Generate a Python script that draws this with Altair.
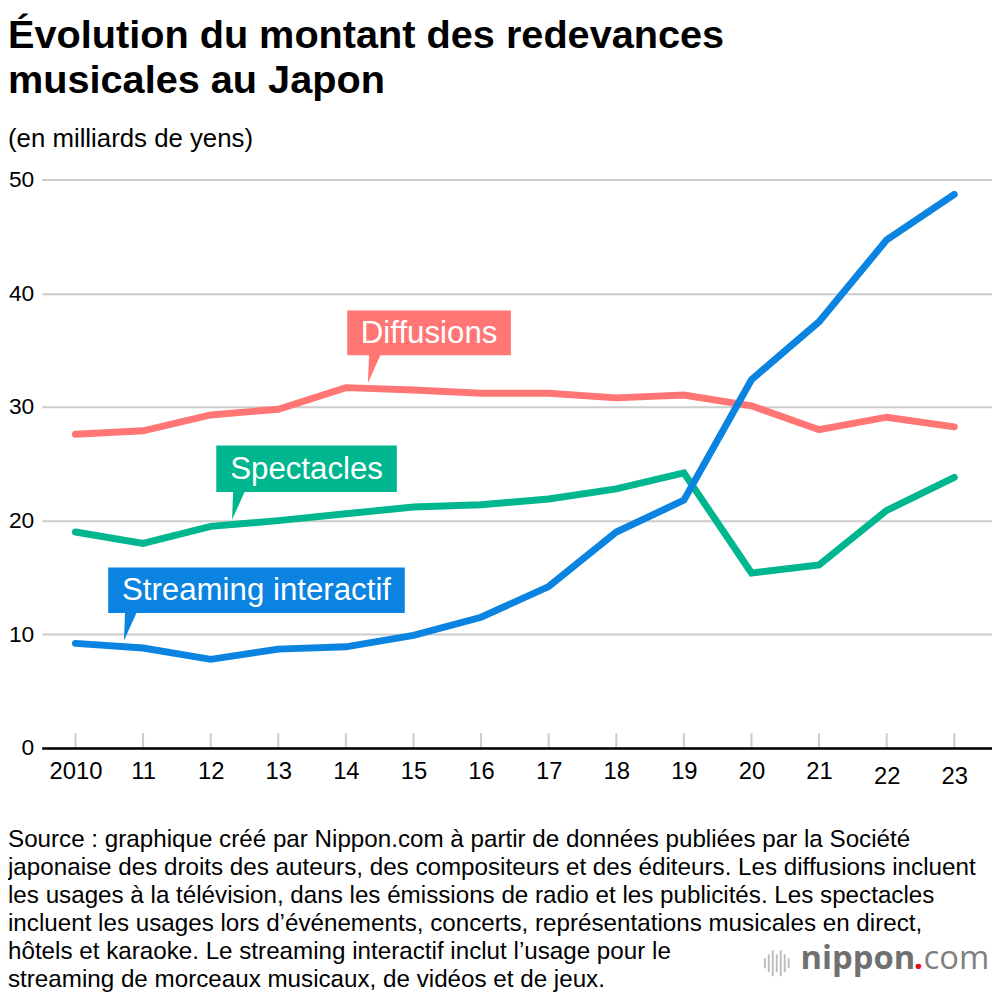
import altair as alt
import pandas as pd
import json

# ---------------- data ----------------
years = list(range(2010, 2024))
year_labels = ["2010", "11", "12", "13", "14", "15", "16", "17", "18", "19", "20", "21", "22", "23"]
series_names = ["Diffusions", "Spectacles", "Streaming interactif"]
series_colors = ["#FF7674", "#00B68F", "#0A84E0"]
diffusions = [27.6, 27.9, 29.3, 29.8, 31.7, 31.5, 31.2, 31.2, 30.8, 31.05, 30.1, 28.0, 29.1, 28.25]
spectacles = [19.0, 18.0, 19.5, 20.0, 20.6, 21.2, 21.4, 21.9, 22.8, 24.2, 15.4, 16.1, 20.9, 23.8]
streaming = [9.2, 8.8, 7.8, 8.7, 8.9, 9.9, 11.5, 14.2, 19.0, 21.8, 32.4, 37.5, 44.7, 48.7]
y_ticks = [0, 10, 20, 30, 40, 50]

title_lines = ["Évolution du montant des redevances", "musicales au Japon"]
subtitle = "(en milliards de yens)"
footer_lines = [
    "Source : graphique créé par Nippon.com à partir de données publiées par la Société",
    "japonaise des droits des auteurs, des compositeurs et des éditeurs. Les diffusions incluent",
    "les usages à la télévision, dans les émissions de radio et les publicités. Les spectacles",
    "incluent les usages lors d’événements, concerts, représentations musicales en direct,",
    "hôtels et karaoke. Le streaming interactif inclut l’usage pour le",
    "streaming de morceaux musicaux, de vidéos et de jeux.",
]

rows = []
for name, vals in zip(series_names, [diffusions, spectacles, streaming]):
    for yr, v in zip(years, vals):
        rows.append({"year": yr, "series": name, "value": v})
df = pd.DataFrame(rows)
ticks_df = pd.DataFrame({"year": years})

W, H = 958, 573
FONT = "Liberation Sans"

xscale = alt.Scale(domain=[2009.501, 2023.558], nice=False, zero=False)
yscale = alt.Scale(domain=[0, 50], nice=False)

label_expr = json.dumps(year_labels) + "[datum.value - 2010]"


def one():
    return alt.Data(values=[{"a": 1}])


lines = alt.Chart(df).mark_line(strokeWidth=7, strokeCap="round").encode(
    x=alt.X("year:Q", scale=xscale,
            axis=alt.Axis(values=years, labelExpr=label_expr, title=None, grid=False,
                          tickSize=0, domainColor="#000000", domainWidth=2.5,
                          labelFontSize=24, labelFont=FONT, labelColor="#000000",
                          labelPadding={"condition": {"test": "datum.value >= 2022", "value": 17}, "value": 12},
                          zindex=1)),
    y=alt.Y("value:Q", scale=yscale,
            axis=alt.Axis(values=y_ticks, title=None, grid=True, gridColor="#cccccc", gridWidth=2,
                          domain=False, ticks=False, labelPadding=8, labelFontSize=23,
                          labelFont=FONT, labelColor="#000000")),
    color=alt.Color("series:N", scale=alt.Scale(domain=series_names, range=series_colors), legend=None),
    order=alt.Order("series:N"),
)

tick_rules = alt.Chart(ticks_df).mark_rule(color="#cccccc", strokeWidth=2).encode(
    x=alt.X("year:Q", scale=xscale),
    y=alt.value(H - 15),
    y2=alt.value(H),
)

layers = [tick_rules, lines]

# callouts: (label, color, box x0, x1, y0, y1, pointer base-left x, y)
callouts = [
    ("Diffusions", series_colors[0], 308, 473, 132, 177, 330, 177),
    ("Spectacles", series_colors[1], 176, 358, 268, 315, 193, 315),
    ("Streaming interactif", series_colors[2], 67, 366, 391, 437, 84, 437),
]
pointer_path = "M 0 -0.05 L 0.43 -0.05 L -0.04 1 Z"
for label, col, x0, x1, y0, y1, px, py in callouts:
    layers.append(alt.Chart(one()).mark_rect(color=col).encode(
        x=alt.value(x0), x2=alt.value(x1), y=alt.value(y0), y2=alt.value(y1)))
    layers.append(alt.Chart(one()).mark_point(shape=pointer_path, filled=True, color=col,
                                              opacity=1, size=3136, strokeWidth=0).encode(
        x=alt.value(px), y=alt.value(py)))
    layers.append(alt.Chart(one()).mark_text(text=label, color="#ffffff", font=FONT, fontSize=31.5,
                                             align="center", baseline="middle").encode(
        x=alt.value((x0 + x1) / 2), y=alt.value((y0 + y1) / 2 + 1)))

# title, subtitle, footer
layers.append(alt.Chart(one()).mark_text(text=title_lines, font=FONT, fontSize=40, fontWeight="bold",
                                         color="#000000", align="left", baseline="alphabetic",
                                         lineHeight=46).encode(
    x=alt.value(-34), y=alt.value(-133)))
layers.append(alt.Chart(one()).mark_text(text=subtitle, font=FONT, fontSize=26, color="#000000",
                                         align="left", baseline="alphabetic").encode(
    x=alt.value(-34), y=alt.value(-33)))
layers.append(alt.Chart(one()).mark_text(text=footer_lines, font=FONT, fontSize=24.4, color="#000000",
                                         align="left", baseline="alphabetic", lineHeight=28.2).encode(
    x=alt.value(-34), y=alt.value(673)))

# logo
layers.append(alt.Chart(one()).mark_text(text="nippon", font="Open Sans", fontSize=33, fontWeight="bold",
                                         color="#707070", align="left", baseline="alphabetic").encode(
    x=alt.value(765), y=alt.value(796)))
layers.append(alt.Chart(one()).mark_text(text=".", font="Open Sans", fontSize=33, fontWeight="bold",
                                         color="#E8121C", align="left", baseline="alphabetic").encode(
    x=alt.value(879), y=alt.value(796)))
layers.append(alt.Chart(one()).mark_text(text="com", font="Open Sans", fontSize=33,
                                         color="#808080", align="left", baseline="alphabetic").encode(
    x=alt.value(889), y=alt.value(796)))
bar_x = [729, 733, 737, 741, 745, 749, 753]
bar_h = [5, 9, 13, 9, 13, 9, 5]
for bx, bh in zip(bar_x, bar_h):
    layers.append(alt.Chart(one()).mark_rule(color="#bdbdbd", strokeWidth=2).encode(
        x=alt.value(bx), y=alt.value(790 - bh), y2=alt.value(790 + bh)))

chart = alt.layer(*layers).properties(
    width=W, height=H,
    autosize=alt.AutoSizeParams(type="none"),
    padding={"left": 34, "top": 169, "right": 0, "bottom": 244},
    background="#ffffff",
).configure_view(stroke=None)

chart.save("out.html", embed_options={"renderer": "svg", "actions": False})
